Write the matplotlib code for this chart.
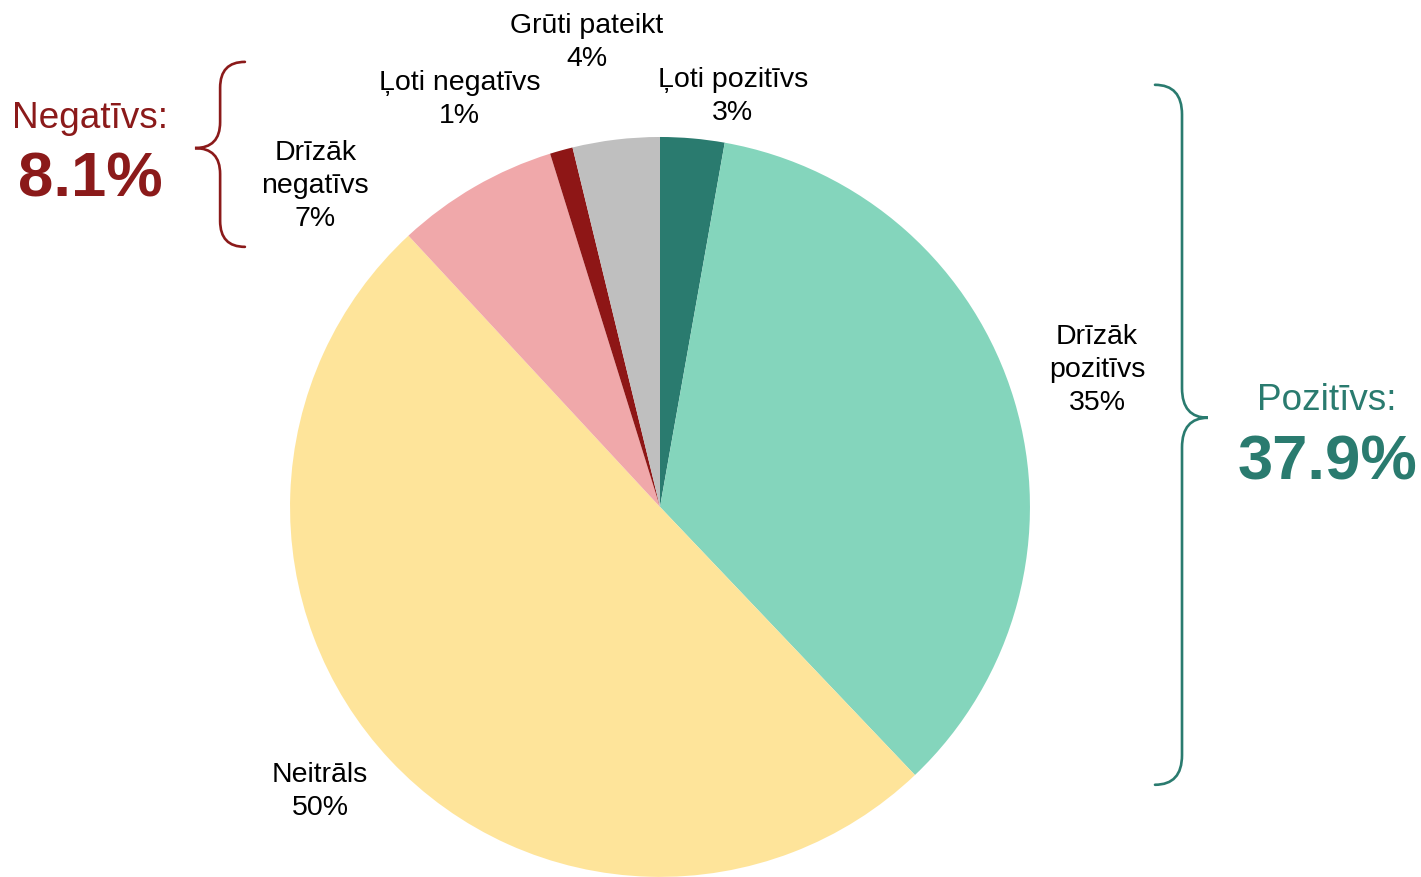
import matplotlib.pyplot as plt
from matplotlib.path import Path
from matplotlib.patches import PathPatch

plt.rcParams['font.family'] = ['Liberation Sans', 'DejaVu Sans']

# data (percent), clockwise from the top
categories = ["Ļoti pozitīvs", "Drīzāk\npozitīvs", "Neitrāls", "Drīzāk\nnegatīvs",
              "Ļoti negatīvs", "Grūti pateikt"]
values = [2.8, 35.1, 50.2, 7.1, 1.0, 3.8]
colors = ["#2a7b6f", "#84d5bc", "#fee49a", "#f0a8aa", "#8e1616", "#bfbfbf"]
positive_idx = [0, 1]
negative_idx = [3, 4]

# label positions (pie radius = 1)
label_pos = [(0.197, 1.110), (1.181, 0.370), (-0.919, -0.770),
             (-0.932, 0.868), (-0.541, 1.100), (-0.197, 1.255)]

red = "#8b1a1a"
green = "#2a7b6f"

fig = plt.figure(figsize=(14.21, 8.77), dpi=100)
ax = fig.add_axes([0, 0, 1, 1])

ax.pie(values, colors=colors, startangle=90, counterclock=False, radius=1,
       wedgeprops=dict(linewidth=0))
ax.set_aspect("equal")
ax.set_xlim(-1.784, 2.057)
ax.set_ylim(-1.0, 1.370)
ax.axis("off")

for name, v, (x, y) in zip(categories, values, label_pos):
    ax.text(x, y, f"{name}\n{round(v):.0f}%", ha="center", va="center",
            fontsize=20.5, color="black", linespacing=1.35)


def brace(x_end, x_spine, x_tip, y_top, y_bot, y_mid, r, color):
    verts = [(x_end, y_top), (x_spine, y_top), (x_spine, y_top - r),
             (x_spine, y_mid + r), (x_spine, y_mid), (x_tip, y_mid),
             (x_spine, y_mid), (x_spine, y_mid - r),
             (x_spine, y_bot + r), (x_spine, y_bot), (x_end, y_bot)]
    codes = [Path.MOVETO, Path.CURVE3, Path.CURVE3,
             Path.LINETO, Path.CURVE3, Path.CURVE3,
             Path.CURVE3, Path.CURVE3,
             Path.LINETO, Path.CURVE3, Path.CURVE3]
    ax.add_patch(PathPatch(Path(verts, codes), fill=False, edgecolor=color,
                           linewidth=1.9, capstyle="round"))


brace(-1.122, -1.189, -1.257, 1.203, 0.703, 0.970, 0.07, red)
brace(1.338, 1.411, 1.481, 1.141, -0.751, 0.241, 0.08, green)

neg_total = sum(values[i] for i in negative_idx)
pos_total = sum(values[i] for i in positive_idx)

ax.text(-1.541, 1.05, "Negatīvs:", ha="center", va="center", fontsize=26.6, color=red)
ax.text(-1.541, 0.884, f"{neg_total:.1f}%", ha="center", va="center",
        fontsize=45.7, fontweight="bold", color=red)
ax.text(1.803, 0.289, "Pozitīvs:", ha="center", va="center", fontsize=26.6, color=green)
ax.text(1.805, 0.120, f"{pos_total:.1f}%", ha="center", va="center",
        fontsize=45.7, fontweight="bold", color=green)

fig.savefig("out.png", dpi=100)
